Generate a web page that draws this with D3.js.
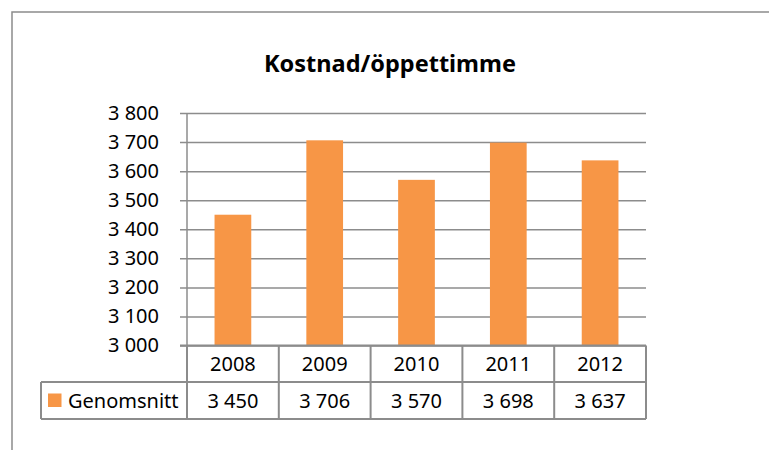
<!DOCTYPE html>
<html>
<head>
<meta charset="utf-8">
<script src="https://cdn.jsdelivr.net/npm/d3@7"></script>
<style>
  body { margin: 0; background: #fff; }
  svg text { font-family: "Noto Sans", "Open Sans", sans-serif; fill: #000; }
</style>
</head>
<body>
<svg id="chart" width="769" height="450"></svg>
<script>
    var years = ['2008', '2009', '2010', '2011', '2012'];
    var genomsnitt = [3450, 3706, 3570, 3698, 3637];
    var yTicks = [3000, 3100, 3200, 3300, 3400, 3500, 3600, 3700, 3800];
    var seriesName = 'Genomsnitt';
    var title = 'Kostnad/öppettimme';

    var svg = d3.select("#chart");
    var grey = "#8c8c8c";
    var orange = "#f79646";

    // number like "3 450"
    function fmt(v) {
      return d3.format(",")(v).replace(/,/g, " ");
    }

    // outer frame (runs off the right and bottom edge)
    svg.append("rect")
      .attr("x", 12).attr("y", 12)
      .attr("width", 900).attr("height", 600)
      .attr("fill", "none")
      .attr("stroke", grey)
      .attr("stroke-width", 1.5);

    svg.append("text")
      .attr("x", 390).attr("y", 72)
      .attr("text-anchor", "middle")
      .style("font-weight", "bold")
      .style("font-size", "23.5px")
      .text(title);

    var plotLeft = 187, plotRight = 646, plotTop = 113, plotBottom = 345.5;

    var x = d3.scaleBand()
      .domain(years)
      .range([plotLeft, plotRight])
      .paddingInner(0.6)
      .paddingOuter(0.3);

    var y = d3.scaleLinear()
      .domain([3000, 3800])
      .range([plotBottom, plotTop]);

    // gridlines + tick labels
    var yAxis = d3.axisLeft(y)
      .tickValues(yTicks)
      .tickSize(-(plotRight - plotLeft))
      .tickSizeOuter(0)
      .tickPadding(28)
      .tickFormat(fmt);

    var gy = svg.append("g")
      .attr("transform", "translate(" + plotLeft + ",0)")
      .call(yAxis);
    gy.select(".domain").remove();
    gy.selectAll(".tick line")
      .attr("x1", -7)
      .attr("stroke", grey)
      .attr("stroke-width", 1.5);
    gy.selectAll(".tick text")
      .attr("fill", "#000")
      .style("font-size", "20px")
      .style("font-family", "'Noto Sans', sans-serif");

    svg.append("line")
      .attr("x1", plotLeft).attr("x2", plotLeft)
      .attr("y1", plotTop).attr("y2", plotBottom)
      .attr("stroke", grey).attr("stroke-width", 1.5);

    svg.append("g")
      .selectAll("rect")
      .data(genomsnitt)
      .enter().append("rect")
        .attr("x", function(d, i) { return x(years[i]); })
        .attr("y", function(d) { return y(d); })
        .attr("width", x.bandwidth())
        .attr("height", function(d) { return y(3000) - y(d); })
        .attr("fill", orange);

    // data table below the axis
    var step = x.step();
    var row1 = plotBottom, row2 = 382, row3 = 419;
    var legendLeft = 41;
    var table = svg.append("g")
      .attr("stroke", grey)
      .attr("stroke-width", 2)
      .attr("fill", "none");

    table.append("line").attr("x1", legendLeft).attr("x2", plotRight).attr("y1", row2).attr("y2", row2);
    table.append("line").attr("x1", legendLeft).attr("x2", plotRight).attr("y1", row3).attr("y2", row3);
    table.append("line").attr("x1", legendLeft).attr("x2", legendLeft).attr("y1", row2).attr("y2", row3);
    table.append("line").attr("x1", plotLeft - 7).attr("x2", plotRight).attr("y1", row1).attr("y2", row1);

    var edges = years.map(function(d) { return x(d) - x.paddingOuter() * step; });
    edges.push(plotRight);
    table.selectAll("line.col")
      .data(edges)
      .enter().append("line")
        .attr("class", "col")
        .attr("x1", function(d) { return d; }).attr("x2", function(d) { return d; })
        .attr("y1", row1).attr("y2", row3);

    svg.append("g")
      .selectAll("text")
      .data(years)
      .enter().append("text")
        .attr("x", function(d) { return x(d) + x.bandwidth() / 2; })
        .attr("y", (row1 + row2) / 2 + 7)
        .attr("text-anchor", "middle")
        .style("font-size", "20px")
        .text(function(d) { return d; });

    svg.append("g")
      .selectAll("text")
      .data(genomsnitt)
      .enter().append("text")
        .attr("x", function(d, i) { return x(years[i]) + x.bandwidth() / 2; })
        .attr("y", (row2 + row3) / 2 + 7)
        .attr("text-anchor", "middle")
        .style("font-size", "20px")
        .text(fmt);

    svg.append("rect")
      .attr("x", 48).attr("y", 393.5)
      .attr("width", 13.5).attr("height", 13.5)
      .attr("fill", orange);
    svg.append("text")
      .attr("x", 68).attr("y", (row2 + row3) / 2 + 7)
      .style("font-size", "20px")
      .text(seriesName);
</script>
</body>
</html>
